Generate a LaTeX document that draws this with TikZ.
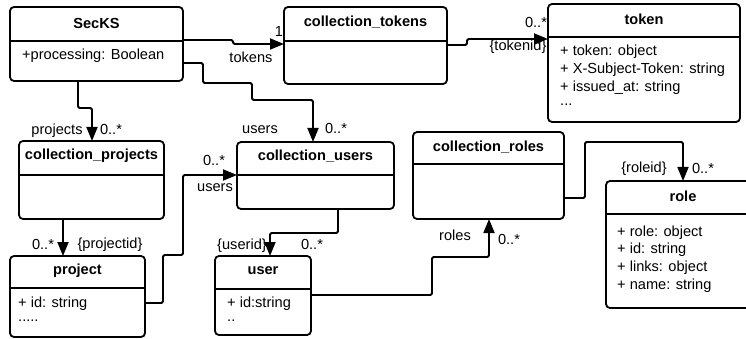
\documentclass[tikz,border=0pt]{standalone}
\usepackage{fontspec}
\setmainfont{Liberation Sans}
\usetikzlibrary{arrows.meta}
\begin{document}
\begin{tikzpicture}[x=1pt,y=-1pt,
  cls/.style={draw, line width=1.8pt, rounded corners=4pt, anchor=north west, inner sep=0pt, outer sep=0pt},
  divl/.style={line width=1.8pt},
  ttl/.style={font=\fontsize{14.6}{18}\selectfont\bfseries, inner sep=0pt},
  attr/.style={font=\fontsize{14.6}{18}\selectfont, inner sep=0pt, anchor=west},
  lbl/.style={font=\fontsize{14.6}{18}\selectfont, inner sep=0pt},
  conn/.style={line width=1.8pt, rounded corners=1.5pt, -{Triangle[length=14pt,width=11pt]}}]
\useasboundingbox (0,0) rectangle (746,339);
\clip (0,0) rectangle (746,339);

% SecKS
\node[cls, minimum width=173pt, minimum height=74pt] (secks) at (10,7) {};
\draw[divl] (secks.west |- 0,41) -- (secks.east |- 0,41);
\node[ttl] (secksT) at (96.5,23) {SecKS};
\node[attr] (secksA) at (22,56) {+processing: Boolean};

% collection_tokens
\node[cls, minimum width=163pt, minimum height=77pt] (ctok) at (284,7) {};
\draw[divl] (ctok.west |- 0,41) -- (ctok.east |- 0,41);
\node[ttl] (ctokT) at (365.5,22) {collection\_tokens};

% token
\node[cls, minimum width=192pt, minimum height=118pt] (token) at (548,4) {};
\draw[divl] (token.west |- 0,37) -- (token.east |- 0,37);
\node[ttl] (tokenT) at (644,19) {token};
\node[attr] (tokA1) at (560,52) {+ token: object};
\node[attr] (tokA2) at (560,70) {+ X-Subject-Token: string};
\node[attr] (tokA3) at (560,88) {+ issued\_at: string};
\node[attr] (tokA4) at (560,105) {...};

% collection_projects
\node[cls, minimum width=145pt, minimum height=78pt] (cproj) at (19,141) {};
\draw[divl] (cproj.west |- 0,175) -- (cproj.east |- 0,175);
\node[ttl] (cprojT) at (91.5,156) {collection\_projects};

% project
\node[cls, minimum width=135pt, minimum height=81pt] (proj) at (10,256) {};
\draw[divl] (proj.west |- 0,288) -- (proj.east |- 0,288);
\node[ttl] (projT) at (77.5,271) {project};
\node[attr] (projA1) at (18,304) {+ id: string};
\node[attr] (projA2) at (18,321) {.....};

% collection_users
\node[cls, minimum width=157pt, minimum height=67pt] (cusers) at (237,142) {};
\draw[divl] (cusers.west |- 0,175) -- (cusers.east |- 0,175);
\node[ttl] (cusersT) at (315.5,156) {collection\_users};

% user
\node[cls, minimum width=96pt, minimum height=79pt] (user) at (215,256) {};
\draw[divl] (user.west |- 0,289) -- (user.east |- 0,289);
\node[ttl] (userT) at (263,271) {user};
\node[attr] (userA1) at (227,304) {+ id:string};
\node[attr] (userA2) at (227,321) {..};

% collection_roles
\node[cls, minimum width=151pt, minimum height=87pt] (croles) at (413,132) {};
\draw[divl] (croles.west |- 0,164) -- (croles.east |- 0,164);
\node[ttl] (crolesT) at (488.5,147) {collection\_roles};

% role
\node[cls, minimum width=154pt, minimum height=127pt] (role) at (606,181) {};
\draw[divl] (role.west |- 0,214) -- (role.east |- 0,214);
\node[ttl] (roleT) at (683,196) {role};
\node[attr] (roleA1) at (617,233) {+ role: object};
\node[attr] (roleA2) at (617,250) {+ id: string};
\node[attr] (roleA3) at (617,268) {+ links: object};
\node[attr] (roleA4) at (617,286) {+ name: string};

% connectors
\draw[conn] (secks.east |- 0,40) -- (233,40) -- (233,44) -- (ctok.west |- 0,44);
\draw[conn] (ctok.east |- 0,45) -- (467,45) -- (467,39) -- (token.west |- 0,39);
\draw[conn] (secks.east |- 0,63) -- (203,63) -- (203,83) -- (252,83) -- (252,100) -- (313,100) -- (cusers.north -| 313,0);
\draw[conn] (secks.south -| 78,0) -- (78,108) -- (92,108) -- (cproj.north -| 92,0);
\draw[conn] (cproj.south -| 63,0) -- (proj.north -| 63,0);
\draw[conn] (proj.east |- 0,303) -- (163,303) -- (163,255) -- (183,255) -- (183,175) -- (cusers.west |- 0,175);
\draw[conn] (cusers.south -| 338,0) -- (338,233) -- (270,233) -- (user.north -| 270,0);
\draw[conn] (user.east |- 0,295) -- (432,295) -- (432,257) -- (489,257) -- (croles.south -| 489,0);
\draw[conn] (croles.east |- 0,198) -- (585,198) -- (585,142) -- (683,142) -- (role.north -| 683,0);

% labels
\node[lbl] (l1) at (251,57) {tokens};
\node[lbl] (l2) at (279,31) {1};
\node[lbl] (l3) at (536,22) {0..*};
\node[lbl] (l4) at (518,47) {\{tokenid\}};
\node[lbl] (l5) at (57,131) {projects};
\node[lbl] (l6) at (111,129) {0..*};
\node[lbl] (l7) at (260,130) {users};
\node[lbl] (l8) at (336,128) {0..*};
\node[lbl] (l9) at (214,160) {0..*};
\node[lbl] (l10) at (215,188) {users};
\node[lbl] (l11) at (43,244) {0..*};
\node[lbl] (l12) at (110,245) {\{projectid\}};
\node[lbl] (l13) at (242,246) {\{userid\}};
\node[lbl] (l14) at (312,244) {0..*};
\node[lbl] (l15) at (455,235) {roles};
\node[lbl] (l16) at (509,239) {0..*};
\node[lbl] (l17) at (644,169) {\{roleid\}};
\node[lbl] (l18) at (703,168) {0..*};
\end{tikzpicture}
\end{document}
